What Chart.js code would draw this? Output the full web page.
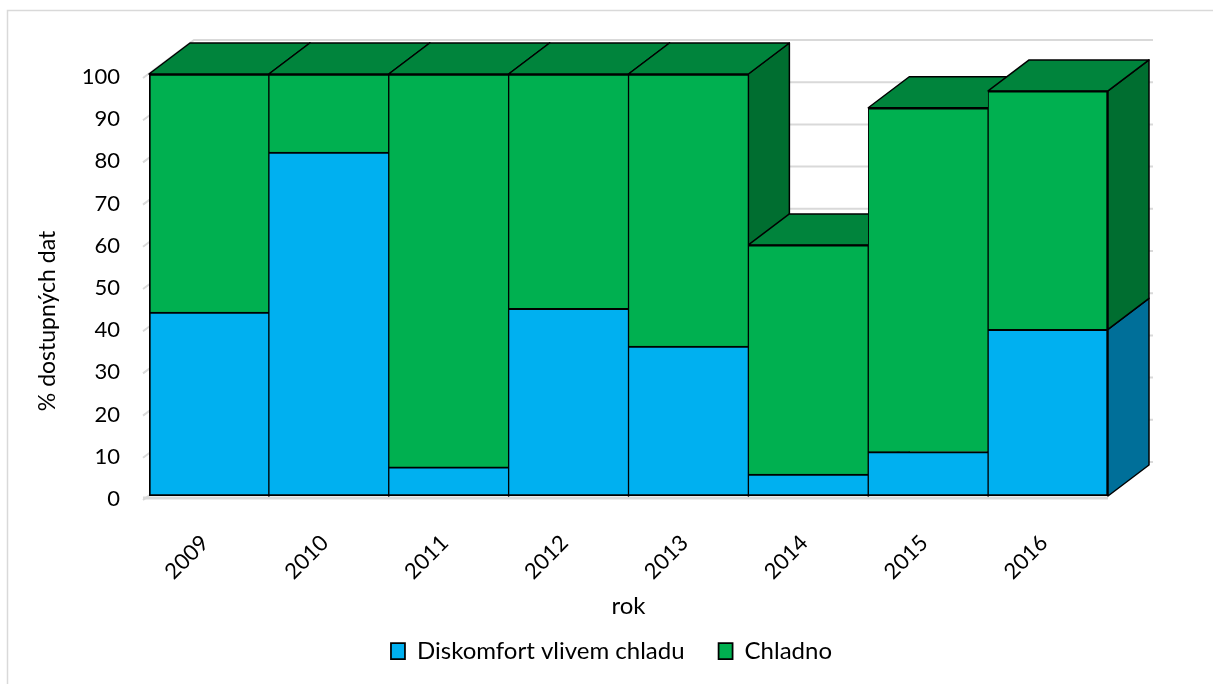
<!DOCTYPE html>
<html>
<head>
<meta charset="utf-8">
<script src="https://cdn.jsdelivr.net/npm/chart.js@4.4.1/dist/chart.umd.min.js"></script>
<style>
  html, body { margin: 0; padding: 0; background: #fff; }
  #wrap { width: 1213px; height: 684px; }
</style>
</head>
<body>
<div id="wrap"><canvas id="c" width="1213" height="684"></canvas></div>
<script>
const categories = ['2009', '2010', '2011', '2012', '2013', '2014', '2015', '2016'];
const discomfort = [43.6, 81.5, 6.9, 44.5, 35.5, 5.2, 10.5, 39.5];
const chladno = [56.4, 18.5, 93.1, 55.5, 64.5, 54.3, 81.5, 56.5];
const yTickValues = [0, 10, 20, 30, 40, 50, 60, 70, 80, 90, 100];
const seriesNames = ['Diskomfort vlivem chladu', 'Chladno'];
const yTitle = '% dostupných dat';
const xTitle = 'rok';

const FONT = 'Lato';
const frontColors = ['#00B0F0', '#00B050'];
const sideColors = ['#006F99', '#006E30'];
const topColor = '#00843C';
const DEPTH = { dx: 41, dy: -31 };
const WALL = { dx: 45, dy: -34 };

function poly(ctx, pts, fill) {
  ctx.beginPath();
  ctx.moveTo(pts[0][0], pts[0][1]);
  for (let k = 1; k < pts.length; k++) ctx.lineTo(pts[k][0], pts[k][1]);
  ctx.closePath();
  ctx.fillStyle = fill;
  ctx.fill();
  ctx.stroke();
}

const frame3d = {
  id: 'frame3d',
  beforeDraw(chart) {
    const ctx = chart.ctx;
    ctx.save();
    ctx.fillStyle = '#ffffff';
    ctx.fillRect(0, 0, chart.width, chart.height);
    ctx.strokeStyle = '#d9d9d9';
    ctx.lineWidth = 1.5;
    ctx.strokeRect(7.5, 10.5, chart.width + 50, chart.height + 50);
    ctx.restore();
  },
  beforeDatasetsDraw(chart) {
    const { ctx, chartArea: a, scales } = chart;
    const ys = scales.y;
    ctx.save();
    // back wall + left wall gridlines
    ctx.strokeStyle = '#d9d9d9';
    ctx.lineWidth = 2;
    ys.ticks.forEach(t => {
      const py = ys.getPixelForValue(t.value);
      ctx.beginPath();
      ctx.moveTo(a.left - 6, py + 4);
      ctx.lineTo(a.left + WALL.dx, py + WALL.dy);
      ctx.lineTo(a.right + WALL.dx, py + WALL.dy);
      ctx.stroke();
    });
    // floor front edge
    ctx.lineWidth = 3;
    ctx.beginPath();
    ctx.moveTo(a.left - 6, a.bottom + 2);
    ctx.lineTo(a.right, a.bottom + 2);
    ctx.stroke();

    // side and top faces
    ctx.strokeStyle = '#000';
    ctx.lineWidth = 1.5;
    ctx.lineJoin = 'round';
    const metas = chart.getSortedVisibleDatasetMetas();
    for (let i = 0; i < categories.length; i++) {
      metas.forEach((m, di) => {
        const p = m.data[i].getProps(['x', 'y', 'base', 'width'], true);
        const top = Math.min(p.y, p.base), base = Math.max(p.y, p.base);
        if (base - top < 0.5) return;
        const x1 = p.x + p.width / 2;
        poly(ctx, [[x1, top], [x1 + DEPTH.dx, top + DEPTH.dy], [x1 + DEPTH.dx, base + DEPTH.dy], [x1, base]], sideColors[di]);
      });
      const last = metas[metas.length - 1];
      const q = last.data[i].getProps(['x', 'y', 'base', 'width'], true);
      const topY = Math.min(q.y, q.base);
      const x0 = q.x - q.width / 2, x1 = q.x + q.width / 2;
      poly(ctx, [[x0, topY], [x0 + DEPTH.dx, topY + DEPTH.dy], [x1 + DEPTH.dx, topY + DEPTH.dy], [x1, topY]], topColor);
    }
    ctx.restore();
  },
  afterDraw(chart) {
    const ctx = chart.ctx;
    const ys = chart.scales.y;
    ctx.save();
    ctx.translate(48, 321);
    ctx.rotate(-Math.PI / 2);
    ctx.font = '23px ' + FONT;
    ctx.fillStyle = '#000';
    ctx.textAlign = 'center';
    ctx.textBaseline = 'middle';
    ctx.fillText(ys.options.title.text, 0, 0);
    ctx.restore();
  }
};

function bw(ctx) {
  if (ctx.type !== 'data') return 1;
  const n = categories.length;
  return { top: 2, bottom: 2, left: ctx.dataIndex === 0 ? 2 : 1, right: ctx.dataIndex === n - 1 ? 2 : 1 };
}

new Chart(document.getElementById('c'), {
  type: 'bar',
  data: {
    labels: categories,
    datasets: [
      { label: seriesNames[0], data: discomfort, backgroundColor: frontColors[0], borderColor: '#000', borderWidth: bw, borderSkipped: false, yAxisID: 'y' },
      { label: seriesNames[1], data: chladno, backgroundColor: frontColors[1], borderColor: '#000', borderWidth: bw, borderSkipped: 'start', yAxisID: 'y' }
    ]
  },
  options: {
    responsive: false,
    animation: false,
    categoryPercentage: 1,
    barPercentage: 1,
    layout: { padding: { left: 10, right: 0, top: 74, bottom: 11 } },
    scales: {
      x: {
        stacked: true,
        grid: { display: false, drawTicks: false },
        border: { display: false },
        ticks: { autoSkip: false, minRotation: 45, maxRotation: 45, padding: 34, labelOffset: -4, color: '#000', font: { family: FONT, size: 22 } },
        title: { display: true, text: xTitle, color: '#000', font: { family: FONT, size: 24 }, padding: { top: 0, bottom: -16 } },
        afterFit(s) { s.height = 109; }
      },
      y: {
        stacked: true,
        min: 0,
        max: 100,
        grid: { display: false, drawTicks: false },
        border: { display: false },
        afterBuildTicks(s) { s.ticks = yTickValues.map(v => ({ value: v })); },
        ticks: { padding: 29, labelOffset: 3, color: '#000', font: { family: FONT, size: 22 } },
        title: { display: false, text: yTitle },
        afterFit(s) { s.width = 139; }
      },
      yRight: {
        position: 'right',
        display: true,
        grid: { display: false, drawTicks: false },
        border: { display: false },
        ticks: { display: false },
        afterFit(s) { s.width = 105; }
      }
    },
    plugins: {
      legend: {
        position: 'bottom',
        labels: { boxWidth: 14, boxHeight: 16, padding: 34, color: '#000', font: { family: FONT, size: 24 } }
      },
      tooltip: { enabled: false }
    }
  },
  plugins: [frame3d]
});
</script>
</body>
</html>
